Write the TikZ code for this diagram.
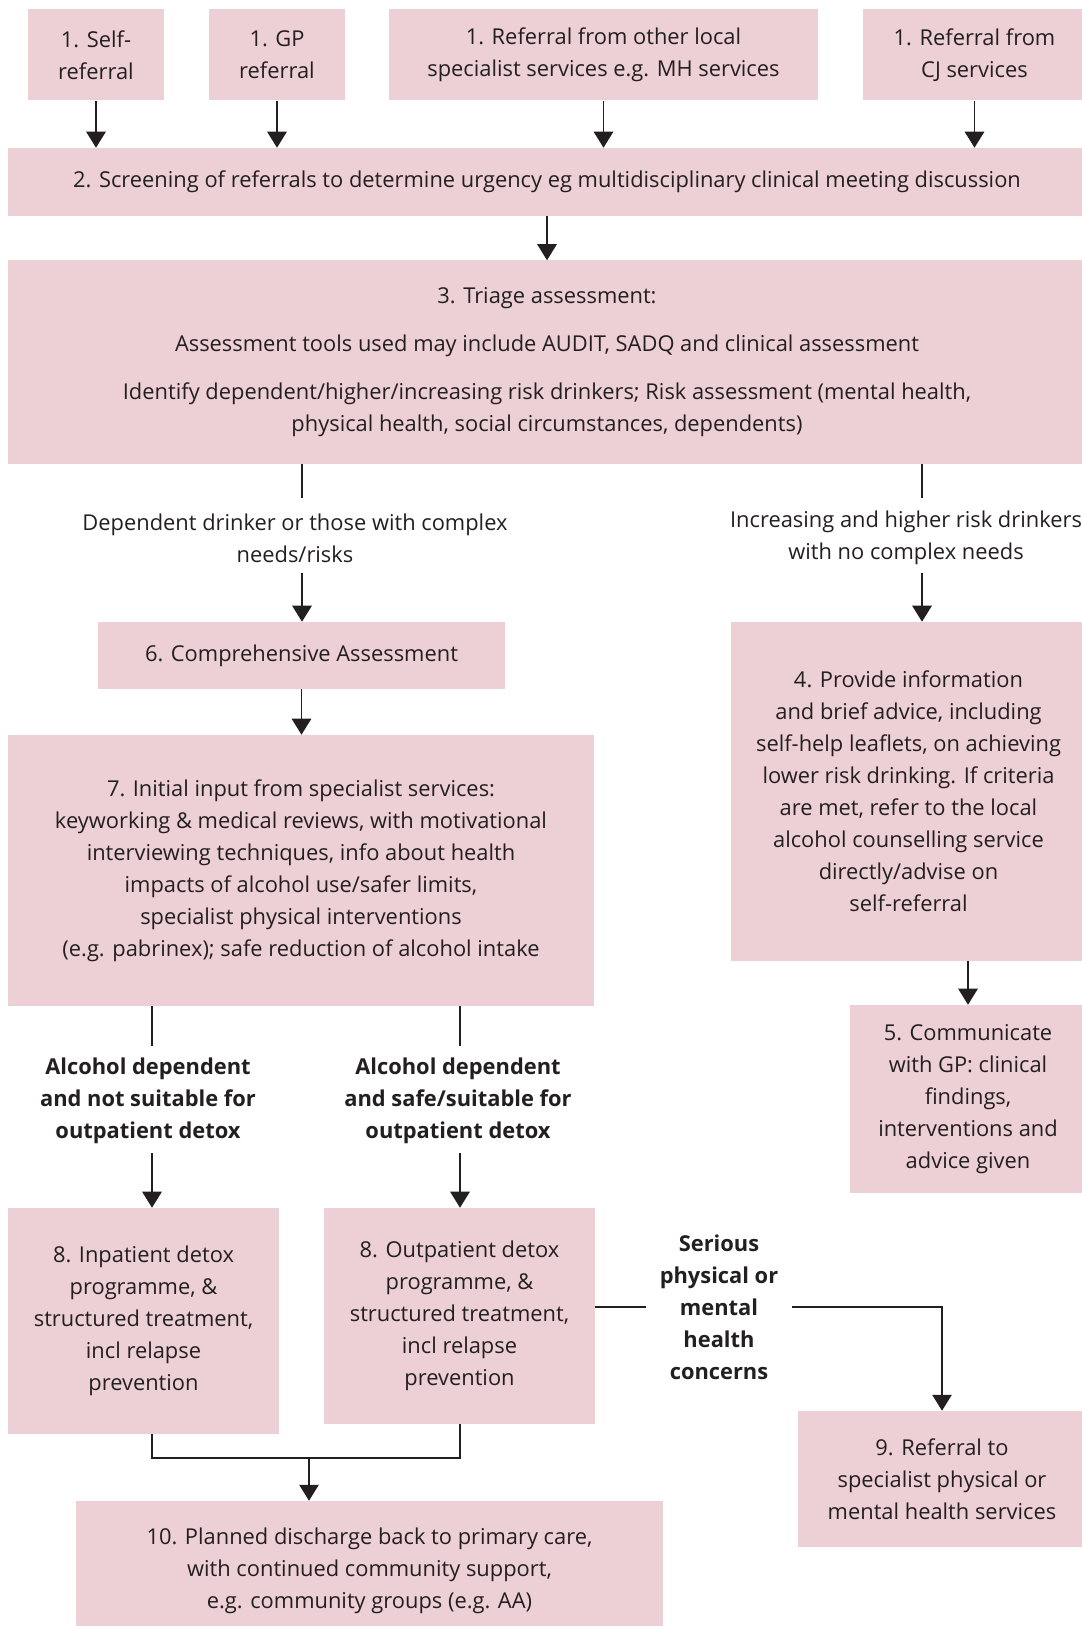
\documentclass[tikz,border=0pt]{standalone}
\usepackage{fontspec}
\setmainfont{Open Sans}
\usetikzlibrary{arrows.meta}
\definecolor{boxpink}{RGB}{237,208,213}
\definecolor{ink}{RGB}{35,31,32}
\begin{document}
\begin{tikzpicture}[x=0.75pt,y=-0.75pt,
  every node/.style={text=ink, font=\fontsize{16.4}{24}\selectfont, align=center, inner sep=0pt},
  box/.style 2 args={fill=boxpink, minimum width=#1*0.75pt, minimum height=#2*0.75pt},
  lbl/.style={font=\fontsize{16.4}{24}\selectfont},
  blbl/.style={font=\fontsize{16.4}{24}\selectfont\bfseries},
  link/.style={draw=ink, line width=1.4pt},
  arr/.style={link, -{Triangle[width=14.5pt,length=12pt]}}
]
\useasboundingbox (0,0) rectangle (1081,1626);

% referral sources
\node[box={136}{91}] (self) at (96,55) {1. Self-\\referral};
\node[box={136}{91}] (gp) at (277,55) {1. GP\\referral};
\node[box={429}{91}] (local) at (603.5,55) {1. Referral from other local\\specialist services e.g. MH services};
\node[box={223}{91}] (cj) at (974.5,55) {1. Referral from\\CJ services};

% screening and triage
\node[box={1078}{68}] (screen) at (547,182) {2. Screening of referrals to determine urgency eg multidisciplinary clinical meeting discussion};
\node[box={1078}{203}] (triage) at (547,362) {3. Triage assessment:\\[12pt]
  Assessment tools used may include AUDIT, SADQ and clinical assessment\\[12pt]
  Identify dependent/higher/increasing risk drinkers; Risk assessment (mental health,\\
  physical health, social circumstances, dependents)};

% branch labels
\node[lbl] (needA) at (295,538) {Dependent drinker or those with complex\\needs/risks};
\node[lbl] (needB) at (906,538) {Increasing and higher risk drinkers\\with no complex needs};

% assessment and advice
\node[box={407}{67}] (comp) at (301.5,655.5) {6. Comprehensive Assessment};
\node[box={355}{339}] (prov) at (908.5,791.5) {4. Provide information\\and brief advice, including\\self-help leaflets, on achieving\\lower risk drinking. If criteria\\are met, refer to the local\\alcohol counselling service\\directly/advise on\\self-referral};
\node[box={586}{271}] (init) at (301,870.5) {7. Initial input from specialist services:\\keyworking \& medical reviews, with motivational\\interviewing techniques, info about health\\impacts of alcohol use/safer limits,\\specialist physical interventions\\(e.g. pabrinex); safe reduction of alcohol intake};
\node[box={236}{188}] (comm) at (968,1099) {5. Communicate\\with GP: clinical\\findings,\\interventions and\\advice given};

% detox routes
\node[blbl] (notsuit) at (148,1101) {Alcohol dependent\\and not suitable for\\outpatient detox};
\node[blbl] (suit) at (458,1101) {Alcohol dependent\\and safe/suitable for\\outpatient detox};
\node[box={271}{226}] (inp) at (143.5,1321) {8. Inpatient detox\\programme, \&\\structured treatment,\\incl relapse\\prevention};
\node[box={271}{216}] (outp) at (459.5,1316) {8. Outpatient detox\\programme, \&\\structured treatment,\\incl relapse\\prevention};
\node[blbl, minimum width=146*0.75pt] (serious) at (719,1307) {Serious\\physical or\\mental\\health\\concerns};
\node[box={288}{136}] (spec) at (942,1479) {9. Referral to\\specialist physical or\\mental health services};
\node[box={587}{139}] (disch) at (369.5,1570.5) {10. Planned discharge back to primary care,\\with continued community support,\\e.g. community groups (e.g. AA)};

% connectors
\foreach \n in {self,gp,local,cj}
  \draw[arr] (\n.south) -- (\n.south |- screen.north);
\draw[arr] (screen.south) -- (triage.north);

\coordinate (aTop) at (302,498); \coordinate (aBot) at (302,573);
\coordinate (bTop) at (922,498); \coordinate (bBot) at (922,573);
\draw[link] (aTop |- triage.south) -- (aTop);
\draw[arr] (aBot) -- (aBot |- comp.north);
\draw[link] (bTop |- triage.south) -- (bTop);
\draw[arr] (bBot) -- (bBot |- prov.north);

\draw[arr] (comp.south) -- (comp.south |- init.north);
\draw[arr] (comm.north |- prov.south) -- (comm.north);

\coordinate (cTop) at (152,1046); \coordinate (cBot) at (152,1153);
\coordinate (dTop) at (460,1046); \coordinate (dBot) at (460,1153);
\draw[link] (cTop |- init.south) -- (cTop);
\draw[arr] (cBot) -- (cBot |- inp.north);
\draw[link] (dTop |- init.south) -- (dTop);
\draw[arr] (dBot) -- (dBot |- outp.north);

\draw[link] (outp.east |- serious.west) -- (serious.west);
\draw[arr] (serious.east) -| (spec.north);

\coordinate (join) at (309,1458);
\draw[link] (cTop |- inp.south) -- (cTop |- join) -- (dTop |- join) -- (dTop |- outp.south);
\draw[arr] (join) -- (join |- disch.north);
\end{tikzpicture}
\end{document}
